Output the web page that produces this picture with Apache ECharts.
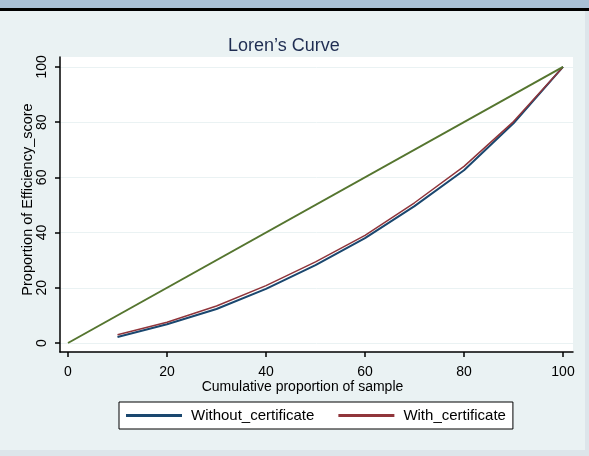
<!DOCTYPE html>
<html>
<head>
    <meta charset="UTF-8">
    <title>Loren's Curve</title>
    <script src="https://cdn.jsdelivr.net/npm/echarts@6/dist/echarts.min.js"></script>
    <style>
        body { margin: 0; padding: 0; background-color: #eaf2f3; }
        #chart { width: 589px; height: 456px; }
    </style>
</head>
<body>
    <div id="chart"></div>
    <script>
        // cumulative proportion of sample (x) and proportion of efficiency score (y)
        const sampleShare = [10, 20, 30, 40, 50, 60, 70, 80, 90, 100];
        const withoutCert = [2.2, 6.8, 12.3, 19.6, 28.2, 38.0, 49.6, 62.6, 79.6, 100];
        const withCert = [3.0, 7.5, 13.4, 20.8, 29.4, 39.0, 50.8, 64.0, 80.2, 100];
        const equalityX = [0, 100];
        const equalityY = [0, 100];
        const tickValues = [0, 20, 40, 60, 80, 100];

        const pairs = (xs, ys) => xs.map((x, i) => [x, ys[i]]);

        const chart = echarts.init(document.getElementById('chart'));
        const font = 'Liberation Sans, Arial, sans-serif';

        const option = {
            backgroundColor: '#eaf2f3',
            textStyle: { fontFamily: font },
            animation: false,
            title: {
                text: 'Loren\u2019s Curve',
                left: 223,
                top: 32,
                textStyle: { fontSize: 18, fontWeight: 'normal', color: '#1f2d52', fontFamily: font }
            },
            graphic: [
                { type: 'rect', shape: { x: 0, y: 0, width: 589, height: 9 }, style: { fill: '#a9c0d6' }, silent: true },
                { type: 'rect', shape: { x: 0, y: 8, width: 589, height: 3 }, style: { fill: '#000' }, silent: true },
                { type: 'rect', shape: { x: 0, y: 450, width: 589, height: 6 }, style: { fill: '#dde5ea' }, silent: true },
                { type: 'rect', shape: { x: 585, y: 11, width: 4, height: 445 }, style: { fill: '#dde5ea' }, silent: true }
            ],
            grid: {
                left: 60,
                top: 57,
                right: 16,
                bottom: 104,
                show: true,
                backgroundColor: '#fff',
                borderWidth: 0
            },
            legend: {
                left: 119,
                top: 402,
                data: ['Without_certificate', 'With_certificate'],
                icon: 'rect',
                itemWidth: 56,
                itemHeight: 3,
                itemGap: 24,
                padding: [6, 7, 6, 7],
                backgroundColor: '#fff',
                borderColor: '#000',
                borderWidth: 1,
                borderRadius: 0,
                textStyle: { fontSize: 15, color: '#000', fontFamily: font, padding: [0, 0, 0, 4] }
            },
            xAxis: {
                type: 'value',
                min: -1.616,
                max: 102.02,
                name: 'Cumulative proportion of sample',
                nameLocation: 'middle',
                nameGap: 28,
                nameMoveOverlap: false,
                nameTextStyle: { fontSize: 14, color: '#000', padding: [0, 28, 0, 0] },
                axisLine: { show: true, onZero: false, lineStyle: { color: '#000', width: 1.5 } },
                axisTick: { show: true, length: 5, customValues: tickValues, lineStyle: { color: '#000', width: 1.5 } },
                axisLabel: { customValues: tickValues, fontSize: 14, color: '#000', margin: 13 },
                splitLine: { show: false }
            },
            yAxis: {
                type: 'value',
                min: -3.26,
                max: 103.6,
                name: 'Proportion of Efficiency_score',
                nameLocation: 'middle',
                nameGap: 25,
                nameMoveOverlap: false,
                nameTextStyle: { fontSize: 14.5, color: '#000', padding: [0, 0, 0, 10] },
                axisLine: { show: true, onZero: false, lineStyle: { color: '#000', width: 1.5 } },
                axisTick: { show: true, length: 5, customValues: tickValues, lineStyle: { color: '#000', width: 1.5 } },
                axisLabel: { customValues: tickValues, fontSize: 14, color: '#000', margin: 11, rotate: 90 },
                splitLine: { show: true, lineStyle: { color: '#eaf2f3', width: 1 } }
            },
            series: [
                {
                    name: 'Without_certificate',
                    type: 'line',
                    data: pairs(sampleShare, withoutCert),
                    showSymbol: false,
                    lineStyle: { color: '#1a476f', width: 2 },
                    itemStyle: { color: '#1a476f' }
                },
                {
                    name: 'With_certificate',
                    type: 'line',
                    data: pairs(sampleShare, withCert),
                    showSymbol: false,
                    lineStyle: { color: '#90353b', width: 1.5 },
                    itemStyle: { color: '#90353b' }
                },
                {
                    name: 'Equality',
                    type: 'line',
                    data: pairs(equalityX, equalityY),
                    showSymbol: false,
                    lineStyle: { color: '#55752f', width: 2 },
                    itemStyle: { color: '#55752f' }
                }
            ]
        };
        chart.setOption(option);
    </script>
</body>
</html>
